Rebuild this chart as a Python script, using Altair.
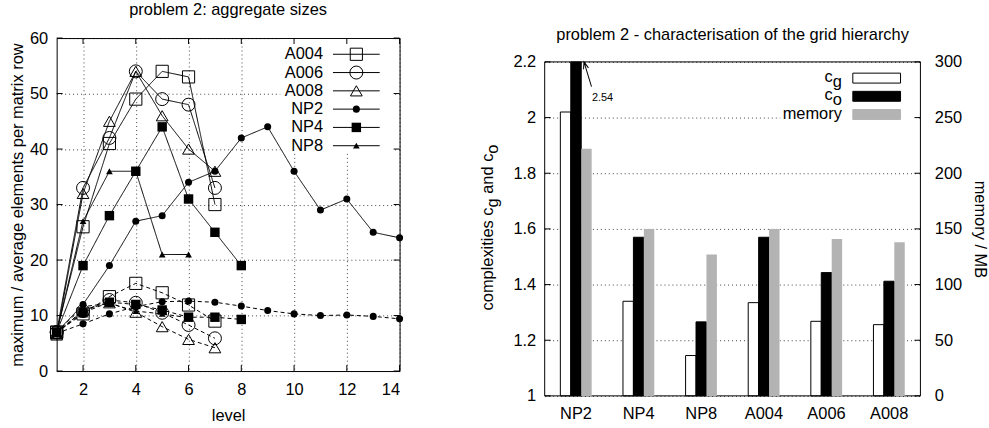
import altair as alt
import pandas as pd

FONT = "Liberation Sans"
FS = 16.5

# ---------------------------------------------------------------------------
# aggregate sizes: maximum and average number of elements per matrix row
# ---------------------------------------------------------------------------
series_names = ["A004", "A006", "A008", "NP2", "NP4", "NP8"]
levels = list(range(1, 15))
max_elements = {
    "A004": [7, 26, 41, 49, 54, 53, 30],
    "A006": [7, 33, 42, 54, 49, 48, 33],
    "A008": [6.5, 32, 45, 54, 46, 40, 36],
    "NP2": [7, 12, 19, 27, 28, 34, 36, 42, 44, 36, 29, 31, 25, 24],
    "NP4": [7, 19, 28, 36, 44, 31, 25, 19],
    "NP8": [7, 27, 36, 36, 21, 21],
}
avg_elements = {
    "A004": [7, 10.3, 13.4, 15.8, 14.1, 11.9, 9.0],
    "A006": [7, 10.8, 12.8, 12.3, 10.5, 8.3, 5.9],
    "A008": [6.7, 11.0, 12.3, 10.6, 8.0, 5.7, 4.2],
    "NP2": [6.8, 8.5, 10.3, 11.6, 12.5, 12.6, 12.4, 11.7, 10.9, 10.3, 10.0, 10.1, 9.85, 9.4],
    "NP4": [7, 10.5, 12.4, 12.0, 11.0, 9.7, 9.7, 9.3],
    "NP8": [7, 11.6, 12.2, 10.8, 10.3, 9.6],
}
level_ticks = [2, 4, 6, 8, 10, 12, 14]
size_ticks = [0, 10, 20, 30, 40, 50, 60]

# ---------------------------------------------------------------------------
# grid hierarchy: grid / operator complexity and memory use
# ---------------------------------------------------------------------------
hierarchies = ["NP2", "NP4", "NP8", "A004", "A006", "A008"]
grid_complexity = [2.02, 1.34, 1.145, 1.335, 1.268, 1.256]
operator_complexity = [2.54, 1.57, 1.266, 1.57, 1.443, 1.412]
memory_mb = [222, 150, 127, 150, 141, 138]
complexity_ticks = [1, 1.2, 1.4, 1.6, 1.8, 2, 2.2]
memory_ticks = [0, 50, 100, 150, 200, 250, 300]

# marker style per series: shape, area, filled
markers = {
    "A004": ("square", 150, False),
    "A006": ("circle", 170, False),
    "A008": ("triangle-up", 140, False),
    "NP2": ("circle", 50, True),
    "NP4": ("square", 90, True),
    "NP8": ("triangle-up", 45, True),
}

rows = []
for name in series_names:
    for kind, table in (("max", max_elements), ("avg", avg_elements)):
        for lev, val in zip(levels, table[name]):
            rows.append({"series": name, "kind": kind, "level": lev, "value": val})
agg = pd.DataFrame(rows)

one_row = pd.DataFrame({"k": [0]})


def txt(s, x, y, size=FS, **kw):
    return alt.Chart(one_row).mark_text(
        font=FONT, fontSize=size, color="black", **kw
    ).encode(x=alt.value(x), y=alt.value(y), text=alt.value(s))


# ----------------------------- left panel ----------------------------------
W1, H1, TK = 345, 335, 6
lx = alt.Scale(domain=[1, 14], nice=False, zero=False)
ly = alt.Scale(domain=[0, 60], nice=False)

legend_bg = alt.Chart(one_row).mark_rect(color="white").encode(
    x=alt.value(225), x2=alt.value(338), y=alt.value(1), y2=alt.value(116)
)

lines = alt.Chart(agg).mark_line(color="black", strokeWidth=1).encode(
    x=alt.X("level:Q", scale=lx,
            axis=alt.Axis(values=level_ticks, title="level", grid=True,
                          labelPadding=11, titlePadding=9)),
    y=alt.Y("value:Q", scale=ly,
            axis=alt.Axis(values=size_ticks, title="maximum / average elements per matrix row",
                          grid=True, titlePadding=4)),
    detail="series:N",
    strokeDash=alt.StrokeDash("kind:N", legend=None,
                              scale=alt.Scale(domain=["max", "avg"], range=[[1, 0], [4, 3]])),
)

point_layers = []
legend_layers = []
LEG_Y0, LEG_DY = 16.3, 18.4
for i, name in enumerate(series_names):
    shape, size, filled = markers[name]
    point_layers.append(
        alt.Chart(agg).transform_filter(alt.datum.series == name)
        .mark_point(shape=shape, size=size, filled=filled, color="black", opacity=1, strokeWidth=1)
        .encode(x=alt.X("level:Q", scale=lx), y=alt.Y("value:Q", scale=ly))
    )
    row_y = LEG_Y0 + i * LEG_DY
    key = alt.Chart(pd.DataFrame({"series": [name]}))
    legend_layers += [
        key.mark_text(align="right", baseline="middle", font=FONT, fontSize=FS, color="black")
        .encode(x=alt.value(268), y=alt.value(row_y), text="series:N"),
        key.mark_rule(color="black", strokeWidth=1)
        .encode(x=alt.value(278), x2=alt.value(325), y=alt.value(row_y)),
        key.mark_point(shape=shape, size=size, filled=filled, color="black", opacity=1, strokeWidth=1)
        .encode(x=alt.value(301.5), y=alt.value(row_y)),
    ]

yt = alt.Chart(pd.DataFrame({"v": size_ticks}))
xt = alt.Chart(pd.DataFrame({"v": level_ticks}))
tick_layers = [
    yt.mark_rule(color="black").encode(y=alt.Y("v:Q", scale=ly), x=alt.value(0), x2=alt.value(TK)),
    yt.mark_rule(color="black").encode(y=alt.Y("v:Q", scale=ly), x=alt.value(W1 - TK), x2=alt.value(W1)),
    xt.mark_rule(color="black").encode(x=alt.X("v:Q", scale=lx), y=alt.value(H1 - TK), y2=alt.value(H1)),
    xt.mark_rule(color="black").encode(x=alt.X("v:Q", scale=lx), y=alt.value(0), y2=alt.value(TK)),
]

left = alt.layer(legend_bg, lines, *point_layers, *tick_layers, *legend_layers).properties(
    width=W1, height=H1,
    title=alt.TitleParams("problem 2: aggregate sizes", offset=12),
)

# ----------------------------- right panel ---------------------------------
# the plot frame starts GAP pixels below the top of this panel's area
W2, GAP, PH = 378, 24, 336
H2 = PH + GAP
kinds = ["cg", "co", "memory"]
comp = pd.DataFrame(
    [{"hierarchy": h, "kind": "cg", "value": v} for h, v in zip(hierarchies, grid_complexity)]
    + [{"hierarchy": h, "kind": "co", "value": v} for h, v in zip(hierarchies, operator_complexity)]
)
mem = pd.DataFrame({"hierarchy": hierarchies, "kind": "memory", "memory": memory_mb})

hx = alt.Scale(domain=hierarchies, paddingInner=0.5, paddingOuter=0.25)
off = alt.Scale(domain=kinds, paddingInner=0, paddingOuter=0)
fill_scale = alt.Scale(domain=kinds, range=["white", "black", "#b3b3b3"])
cy = alt.Scale(domain=[complexity_ticks[0], complexity_ticks[-1]], range=[H2, GAP],
               nice=False, zero=False, clamp=True)
my = alt.Scale(domain=[memory_ticks[0], memory_ticks[-1]], range=[H2, GAP], nice=False)

panel_title = txt("problem 2 - characterisation of the grid hierarchy", W2 / 2, 2,
                  align="center", baseline="alphabetic")

key_bg = alt.Chart(one_row).mark_rect(color="white").encode(
    x=alt.value(237), x2=alt.value(376), y=alt.value(GAP + 1), y2=alt.value(GAP + 62)
)

comp_bars = alt.Chart(comp).mark_bar(stroke="black", strokeWidth=1).encode(
    x=alt.X("hierarchy:N", scale=hx,
            axis=alt.Axis(title=None, labelAngle=0, grid=False, labelPadding=10)),
    xOffset=alt.XOffset("kind:N", scale=off),
    y=alt.Y("value:Q", scale=cy,
            axis=alt.Axis(values=complexity_ticks, title=None, grid=True, format="~g")),
    y2=alt.datum(complexity_ticks[0]),
    fill=alt.Fill("kind:N", scale=fill_scale, legend=None),
)

# plot frame
frame = alt.Chart(one_row).mark_rect(fill="transparent", stroke="black", strokeWidth=1).encode(
    x=alt.value(0), x2=alt.value(W2),
    y=alt.datum(complexity_ticks[-1]), y2=alt.datum(complexity_ticks[0]),
)

ct = alt.Chart(pd.DataFrame({"v": complexity_ticks}))
comp_ticks = ct.mark_rule(color="black").encode(
    y=alt.Y("v:Q", scale=cy), x=alt.value(0), x2=alt.value(TK)
)

# arrow pointing at the clipped operator-complexity bar, with its value
clipped = pd.DataFrame({"hierarchy": [hierarchies[0]], "value": [operator_complexity[0]],
                        "top": [complexity_ticks[-1]]})
ARROW = "M0,0L0,1M-0.1,0.27L0,0L0.1,0.27"
arrow = alt.Chart(clipped).mark_point(
    shape=ARROW, size=2704, angle=343, filled=False, color="black", opacity=1,
    strokeWidth=1, xOffset=8,
).encode(x=alt.X("hierarchy:N", scale=hx), y=alt.Y("top:Q", scale=cy))
arrow_label = alt.Chart(clipped).mark_text(
    align="left", baseline="middle", font=FONT, fontSize=11, color="black", xOffset=16, yOffset=36,
).encode(x=alt.X("hierarchy:N", scale=hx), y=alt.Y("top:Q", scale=cy),
         text=alt.Text("value:Q", format=".2f"))

# key: c_g, c_o, memory
key_rows = pd.DataFrame({"kind": kinds, "row": [0, 1, 2]})
KEY_Y0, KEY_DY = GAP + 16.3, 18.3
key_boxes = alt.Chart(key_rows).transform_calculate(
    yc=f"{KEY_Y0} + datum.row * {KEY_DY}"
).transform_calculate(
    ya="datum.yc - 5", yb="datum.yc + 5"
).mark_rect(strokeWidth=1).encode(
    x=alt.value(310), x2=alt.value(358),
    y=alt.Y("ya:Q", scale=None), y2=alt.Y2("yb:Q"),
    fill=alt.Fill("kind:N", scale=fill_scale, legend=None),
    stroke=alt.Stroke("kind:N", legend=None,
                      scale=alt.Scale(domain=kinds, range=["black", "black", "#b3b3b3"])),
)

SUB_W = 0.556 * FS
key_texts = [
    txt("c", 299 - SUB_W, KEY_Y0 - 1, align="right", baseline="middle"),
    txt("g", 299, KEY_Y0 + 4, align="right", baseline="middle"),
    txt("c", 299 - SUB_W, KEY_Y0 + KEY_DY - 1, align="right", baseline="middle"),
    txt("o", 299, KEY_Y0 + KEY_DY + 4, align="right", baseline="middle"),
    txt("memory", 299, KEY_Y0 + 2 * KEY_DY, align="right", baseline="middle"),
]

# rotated axis title with subscripts: "complexities c_g and c_o"
TY0 = GAP + 250
w_first = 6.279 * FS      # "complexities c"
w_space = 0.278 * FS
w_and = 2.446 * FS        # "and c"
title_parts = [
    txt("complexities c", -57, TY0, align="left", baseline="middle", angle=270),
    txt("g", -52, TY0 - w_first, align="left", baseline="middle", angle=270),
    txt("and c", -57, TY0 - w_first - SUB_W - w_space, align="left", baseline="middle", angle=270),
    txt("o", -52, TY0 - w_first - SUB_W - w_space - w_and, align="left", baseline="middle",
        angle=270),
]

inner = alt.layer(panel_title, key_bg, comp_bars, frame, comp_ticks, arrow, arrow_label,
                  key_boxes, *key_texts, *title_parts)

mem_bars = alt.Chart(mem).mark_bar(color="#b3b3b3").encode(
    x=alt.X("hierarchy:N", scale=hx),
    xOffset=alt.XOffset("kind:N", scale=off),
    y=alt.Y("memory:Q", scale=my,
            axis=alt.Axis(orient="right", values=memory_ticks, title="memory / MB",
                          grid=False, labelPadding=14, titlePadding=10)),
)
mt = alt.Chart(pd.DataFrame({"v": memory_ticks}))
mem_ticks = mt.mark_rule(color="black").encode(
    y=alt.Y("v:Q", scale=my), x=alt.value(W2 - TK), x2=alt.value(W2)
)
outer_mem = alt.layer(mem_bars, mem_ticks)

right = alt.layer(inner, outer_mem).resolve_scale(y="independent").properties(
    width=W2, height=H2, view=alt.ViewBackground(stroke="transparent"),
)

chart = alt.hconcat(left, right, spacing=75).configure(
    font=FONT, padding={"left": 9, "top": 0, "right": 0, "bottom": 0}
).configure_view(
    stroke="black", strokeWidth=1
).configure_axis(
    labelFont=FONT, titleFont=FONT, labelFontSize=FS, titleFontSize=FS,
    titleFontWeight="normal", labelColor="black", titleColor="black",
    domain=False, ticks=False, tickSize=0, labelPadding=9,
    gridColor="black", gridOpacity=0.75, gridDash=[1, 3], gridWidth=1,
).configure_title(
    font=FONT, fontSize=FS, fontWeight="normal", color="black", anchor="middle"
)

chart.save("out.html", embed_options={"renderer": "svg", "actions": False})
